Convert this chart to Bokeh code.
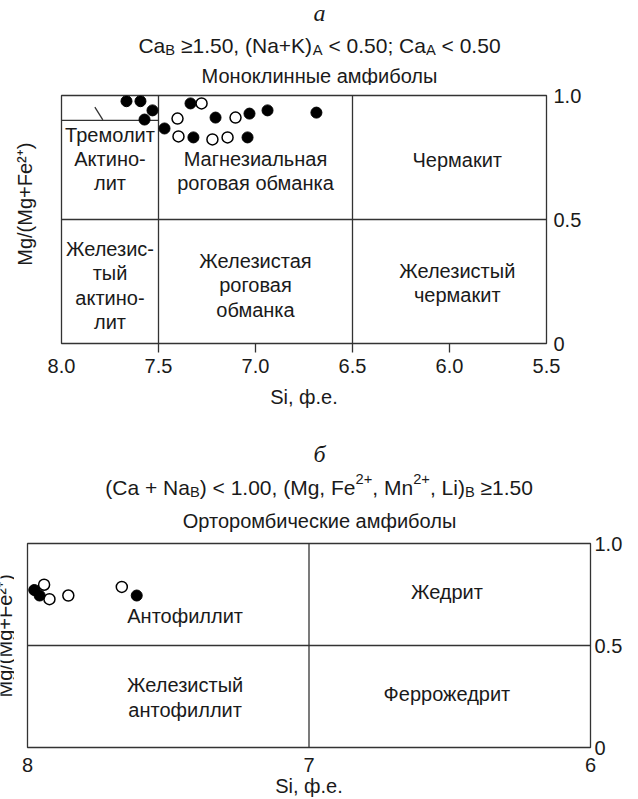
import math
from bokeh.plotting import figure
from bokeh.models import LinearAxis, FixedTicker, ColumnDataSource, Range1d, NumeralTickFormatter
from bokeh.layouts import column, row
from bokeh.embed import file_html
from bokeh.resources import INLINE
from bokeh.core.properties import value

FONT = "Liberation Sans"
SERIF = "Liberation Serif"
TXT = "#1a1a1a"
LINE = "#333333"

# ---------------- data: panel a (monoclinic amphiboles) ----------------
a_filled_si = [7.665, 7.593, 7.531, 7.572, 7.469, 7.335, 7.206, 7.031, 6.938, 6.686, 7.320, 7.041]
a_filled_mg = [0.977, 0.977, 0.940, 0.903, 0.867, 0.968, 0.911, 0.927, 0.940, 0.931, 0.831, 0.831]
a_open_si = [7.278, 7.402, 7.103, 7.397, 7.222, 7.144]
a_open_mg = [0.968, 0.907, 0.911, 0.835, 0.823, 0.831]

a_bound_x0 = [7.5, 6.5, 8.0, 8.0, 7.828]
a_bound_y0 = [0.0, 0.0, 0.5, 0.9, 0.953]
a_bound_x1 = [7.5, 6.5, 5.5, 7.5, 7.787]
a_bound_y1 = [1.0, 1.0, 0.5, 0.9, 0.902]

a_field_names = ["Тремолит", "Актино-\nлит", "Магнезиальная\nроговая обманка", "Чермакит",
                 "Железис-\nтый\nактино-\nлит", "Железистая\nроговая\nобманка", "Железистый\nчермакит"]
a_field_si = [7.75, 7.75, 7.0, 5.96, 7.75, 7.0, 5.96]
a_field_mg = [0.839, 0.694, 0.694, 0.738, 0.234, 0.234, 0.244]

a_x_ticks = [8.0, 7.5, 7.0, 6.5, 6.0, 5.5]
a_x_tick_marks = [7.5, 7.0, 6.5, 6.0]
a_y_ticks = [0.0, 0.5, 1.0]
a_y_tick_labels = ["0", "0.5", "1.0"]

a_letter = "а"
a_formula = [("Ca", "n"), ("B", "sub"), (" ≥1.50, (Na+K)", "n"), ("A", "sub"),
             (" < 0.50; Ca", "n"), ("A", "sub"), (" < 0.50", "n")]
a_subtitle = "Моноклинные амфиболы"

# ---------------- data: panel b (orthorhombic amphiboles) ----------------
b_filled_si = [7.976, 7.957, 7.612]
b_filled_mg = [0.772, 0.745, 0.745]
b_open_si = [7.941, 7.922, 7.855, 7.665]
b_open_mg = [0.798, 0.727, 0.745, 0.787]

b_bound_x0 = [7.0, 8.0]
b_bound_y0 = [0.0, 0.5]
b_bound_x1 = [7.0, 6.0]
b_bound_y1 = [1.0, 0.5]

b_field_names = ["Антофиллит", "Жедрит", "Железистый\nантофиллит", "Феррожедрит"]
b_field_si = [7.44, 6.51, 7.44, 6.51]
b_field_mg = [0.645, 0.760, 0.245, 0.262]

b_x_ticks = [8, 7, 6]
b_y_ticks = [0.0, 0.5, 1.0]
b_y_tick_labels = ["0", "0.5", "1.0"]

b_letter = "б"
b_formula = [("(Ca + Na", "n"), ("B", "sub"), (") < 1.00, (Mg, Fe", "n"), ("2+", "sup"),
             (", Mn", "n"), ("2+", "sup"), (", Li)", "n"), ("B", "sub"), (" ≥1.50", "n")]
b_subtitle = "Орторомбические амфиболы"

y_label = "Mg/(Mg+Fe²⁺)"
x_label = "Si, ф.е."

# ---------------- helpers ----------------
ADV = {' ': 278, '(': 333, ')': 333, '+': 584, ',': 278, '.': 278, '/': 278, ';': 278, '<': 584,
       '≥': 584, 'A': 667, 'B': 667, 'C': 722, 'F': 611, 'K': 667, 'L': 556, 'M': 833, 'N': 722,
       'a': 556, 'e': 556, 'g': 556, 'i': 222, 'n': 556}
FS = 20      # general text size
FF = 21      # formula text size
W = 638


def tw(s, size):
    return sum(ADV.get(c, 556) for c in s) * size / 1000.0


def psize(kind):
    return FF * 0.7 if kind != "n" else FF


def layout_row(pieces, xc, ybase, acc):
    total = sum(tw(t, psize(k)) for t, k in pieces)
    x = xc - total / 2
    for t, k in pieces:
        s = psize(k)
        dy = 0.22 * FF if k == "sub" else (-0.40 * FF if k == "sup" else 0)
        lead = len(t) - len(t.lstrip(" "))
        acc["x"].append(x + tw(" " * lead, s))
        acc["y"].append(ybase + dy)
        acc["t"].append(t.strip(" "))
        acc["s"].append(f"{s:.1f}px")
        x += tw(t, s)


def blank_fig(w, h, flip=True):
    f = figure(width=w, height=h, x_range=Range1d(0, w),
               y_range=Range1d(h, 0) if flip else Range1d(0, h),
               output_backend="svg", toolbar_location=None,
               x_axis_location=None, y_axis_location=None,
               min_border_left=0, min_border_right=0, min_border_top=0, min_border_bottom=0)
    f.grid.visible = False
    f.outline_line_color = None
    return f


def title_fig(h, letter, letter_y, formula, formula_y, subtitle, sub_y):
    f = blank_fig(W, h)
    f.text(x=[W / 2], y=[letter_y], text=[letter], text_font=value(SERIF),
           text_font_style="italic", text_font_size=value("24px"), text_align="center",
           text_baseline="alphabetic", text_color=TXT)
    acc = dict(x=[], y=[], t=[], s=[])
    layout_row(formula, W / 2, formula_y, acc)
    f.text(x="x", y="y", text="t", text_font_size="s", source=ColumnDataSource(acc),
           text_font=value(FONT), text_align="left", text_baseline="alphabetic", text_color=TXT)
    f.text(x=[W / 2], y=[sub_y], text=[subtitle], text_font=value(FONT),
           text_font_size=value(f"{FS}px"), text_align="center", text_baseline="alphabetic",
           text_color=TXT)
    return f


def ylabel_fig(w, h, xc, yc_from_top):
    f = blank_fig(w, h, flip=False)
    f.text(x=[xc], y=[h - yc_from_top], text=[y_label], text_font=value(FONT),
           text_font_size=value(f"{FS}px"), text_align="center", text_baseline="middle",
           angle=math.pi / 2, text_color=TXT)
    return f


def style_axis(ax):
    ax.axis_line_color = None
    ax.major_label_text_font = FONT
    ax.major_label_text_font_size = f"{FS}px"
    ax.major_label_text_color = TXT
    ax.axis_label_text_font = FONT
    ax.axis_label_text_font_size = f"{FS}px"
    ax.axis_label_text_font_style = "normal"
    ax.axis_label_text_color = TXT
    ax.major_tick_in = 0
    ax.minor_tick_in = 0
    ax.minor_tick_out = 0
    ax.major_tick_line_color = LINE
    ax.major_tick_line_width = 1.3
    ax.minor_tick_line_color = LINE
    ax.minor_tick_line_width = 1.3


def chart_fig(w, h, xr, bl, br, bt, bb):
    f = figure(width=w, height=h, x_range=Range1d(*xr), y_range=Range1d(0, 1),
               output_backend="svg", toolbar_location=None,
               x_axis_location=None, y_axis_location=None,
               min_border_left=bl, min_border_right=br, min_border_top=bt, min_border_bottom=bb)
    f.grid.visible = False
    f.outline_line_color = LINE
    f.outline_line_width = 1.3
    return f


# ================= panel a =================
T1_H = 85
A_H = 340
t1 = title_fig(T1_H, a_letter, 12, a_formula, 45, a_subtitle, 75)
yl1 = ylabel_fig(40, A_H, 24.5, 234 - T1_H)

pa = chart_fig(W - 40, A_H, (8.0, 5.5), 21, 92, 10, 82)
ax1 = LinearAxis(ticker=FixedTicker(ticks=a_x_ticks, minor_ticks=a_x_tick_marks),
                 formatter=NumeralTickFormatter(format="0.0"), axis_label=x_label)
style_axis(ax1)
ax1.major_tick_out = 0
ax1.minor_tick_out = 9
ax1.major_label_standoff = 6
ax1.axis_label_standoff = 10
pa.add_layout(ax1, "below")

ay1 = LinearAxis(ticker=FixedTicker(ticks=a_y_ticks),
                 major_label_overrides=dict(zip(a_y_ticks, a_y_tick_labels)))
style_axis(ay1)
ay1.major_tick_out = 0
ay1.major_label_standoff = 7
pa.add_layout(ay1, "right")

pa.segment(x0=a_bound_x0, y0=a_bound_y0, x1=a_bound_x1, y1=a_bound_y1, line_color=LINE, line_width=1.3)
pa.scatter(a_filled_si, a_filled_mg, size=11, fill_color="black", line_color="black")
pa.scatter(a_open_si, a_open_mg, size=11, fill_color="white", line_color="black", line_width=1.5)
pa.text(x="x", y="y", text="t", source=ColumnDataSource(dict(x=a_field_si, y=a_field_mg, t=a_field_names)),
        text_font=value(FONT), text_font_size=value(f"{FS}px"), text_align="center",
        text_baseline="middle", text_line_height=1.1, text_color=TXT)

# ================= panel b =================
T2_H = 107
B_H = 799 - T1_H - A_H - T2_H
T2_TOP = T1_H + A_H
t2 = title_fig(T2_H, b_letter, 453 - T2_TOP, b_formula, 487 - T2_TOP, b_subtitle, 520 - T2_TOP)
B_TOP = T2_TOP + T2_H
yl2 = ylabel_fig(14, B_H, 4, 653 - B_TOP)

pb = chart_fig(W - 14, B_H, (8, 6), 13, 48, 543 - B_TOP, B_H - (748 - B_TOP))
ax2 = LinearAxis(ticker=FixedTicker(ticks=b_x_ticks), axis_label=x_label)
style_axis(ax2)
ax2.major_tick_out = 0
ax2.major_label_standoff = 10
ax2.axis_label_standoff = 0
pb.add_layout(ax2, "below")

ay2 = LinearAxis(ticker=FixedTicker(ticks=b_y_ticks),
                 major_label_overrides=dict(zip(b_y_ticks, b_y_tick_labels)))
style_axis(ay2)
ay2.major_tick_out = 0
ay2.major_label_standoff = 4
pb.add_layout(ay2, "right")

pb.segment(x0=b_bound_x0, y0=b_bound_y0, x1=b_bound_x1, y1=b_bound_y1, line_color=LINE, line_width=1.3)
pb.scatter(b_open_si, b_open_mg, size=11, fill_color="white", line_color="black", line_width=1.5)
pb.scatter(b_filled_si, b_filled_mg, size=11, fill_color="black", line_color="black")
pb.text(x="x", y="y", text="t", source=ColumnDataSource(dict(x=b_field_si, y=b_field_mg, t=b_field_names)),
        text_font=value(FONT), text_font_size=value(f"{FS}px"), text_align="center",
        text_baseline="middle", text_line_height=1.1, text_color=TXT)

layout = column(t1, row(yl1, pa, spacing=0), t2, row(yl2, pb, spacing=0), spacing=0)
open("out.html", "w").write(file_html(layout, INLINE))
